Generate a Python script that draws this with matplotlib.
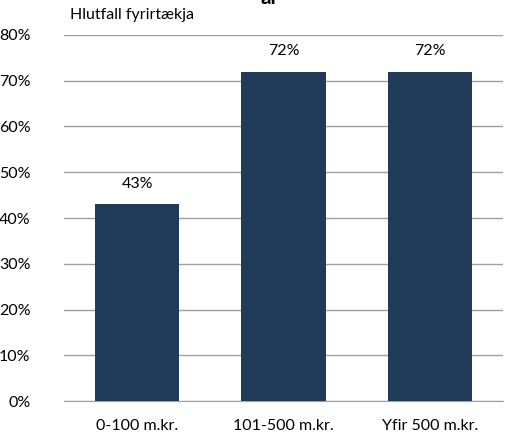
import matplotlib.pyplot as plt
import numpy as np

categories = ["0-100 m.kr.", "101-500 m.kr.", "Yfir 500 m.kr."]
values = [43, 72, 72]
yticks = [0, 10, 20, 30, 40, 50, 60, 70, 80]

plt.rcParams['font.family'] = ['Lato', 'DejaVu Sans']

fig = plt.figure(figsize=(5.05, 4.36), dpi=100)
ax = fig.add_axes([64 / 505, 35 / 436, 439 / 505, 366 / 436])

x = np.arange(len(categories))
bars = ax.bar(x, values, width=0.575, color="#203a5a", zorder=3)
for xi, v in zip(x, values):
    ax.text(xi, v + 3, f"{v}%", ha="center", va="bottom", fontsize=11.5)

ax.set_xlim(-0.5, len(categories) - 0.5)
ax.set_ylim(0, 80)
ax.set_yticks(yticks)
ax.set_yticklabels([f"{t}%" for t in yticks], fontsize=11.5)
ax.set_xticks(x)
ax.set_xticklabels(categories, fontsize=11.5)
ax.tick_params(length=0)
ax.tick_params(axis='x', pad=13)
ax.tick_params(axis='y', pad=24)
ax.grid(axis='y', color="#a0a0a0", linewidth=1, zorder=0)
for s in ["top", "right", "left"]:
    ax.spines[s].set_visible(False)
ax.spines["bottom"].set_color("#a0a0a0")

fig.text(70 / 505, 1 - 15 / 436, "Hlutfall fyrirtækja", fontsize=11.5, va="center")
fig.text(270 / 505, 1 - 4 / 436, "ar", fontsize=15, fontweight="bold",
         ha="center", va="baseline")

fig.savefig("out.png", dpi=100)
